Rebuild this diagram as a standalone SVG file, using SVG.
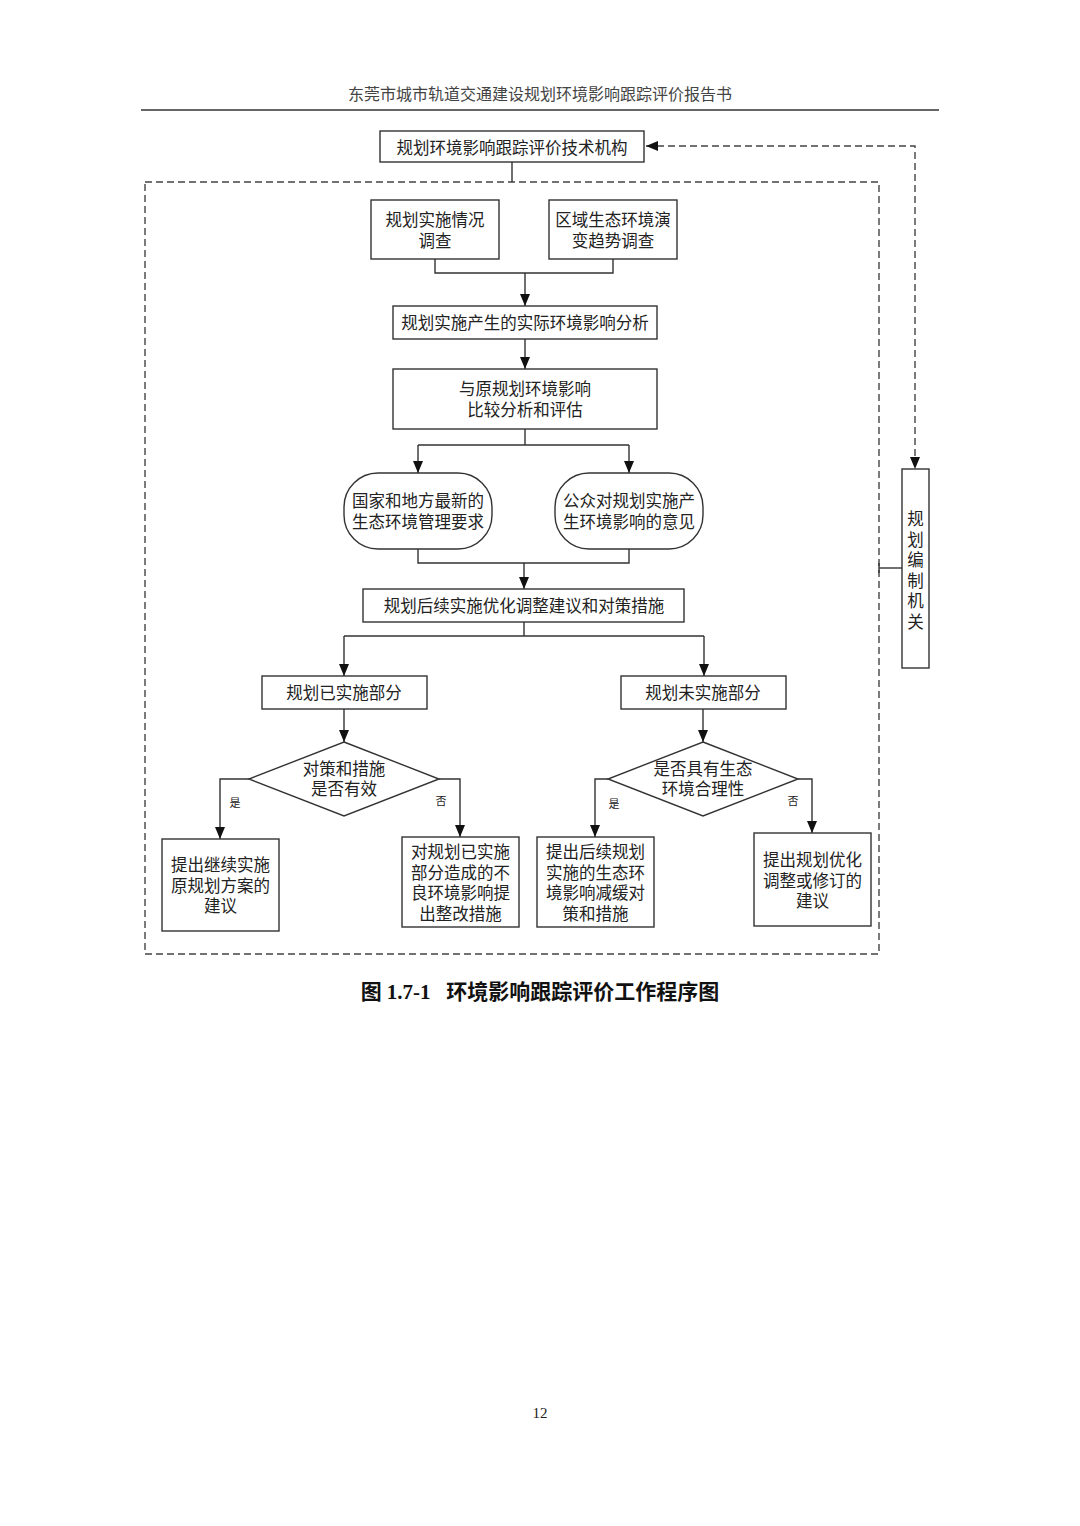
<svg xmlns="http://www.w3.org/2000/svg" width="1080" height="1526" viewBox="0 0 1080 1526">
<defs>
<marker id="arr" viewBox="0 0 12 10" refX="12" refY="5" markerWidth="12" markerHeight="10" markerUnits="userSpaceOnUse" orient="auto-start-reverse">
<path d="M0,0 L12,5 L0,10 Z" fill="#111"/>
</marker>
</defs>
<style>
.box{fill:#fff;stroke:#333;stroke-width:1.4}
.t{font-family:"Noto Sans CJK SC","Noto Sans",sans-serif;font-size:16.5px;fill:#222;text-anchor:middle;dominant-baseline:central}
.s{font-family:"Noto Sans CJK SC","Noto Sans",sans-serif;font-size:11px;fill:#222;text-anchor:middle;dominant-baseline:central}
.ln{fill:none;stroke:#333;stroke-width:1.4}
.da{fill:none;stroke:#444;stroke-width:1.4;stroke-dasharray:7,4}
.ar{marker-end:url(#arr)}
</style>
<rect width="1080" height="1526" fill="#fff"/>
<text x="540" y="94" font-family="'Liberation Serif','Noto Sans CJK SC',serif" font-size="16" fill="#444" text-anchor="middle" dominant-baseline="central">东莞市城市轨道交通建设规划环境影响跟踪评价报告书</text>
<line x1="141" y1="110" x2="939" y2="110" stroke="#333" stroke-width="1.5"/>

<rect x="145" y="182" width="734" height="772" class="da"/>

<g id="connectors">
<line x1="512" y1="162" x2="512" y2="182" class="ln"/>
<path d="M646,146 H915 V469" class="da" marker-start="url(#arr)" marker-end="url(#arr)"/>
<line x1="879" y1="568" x2="902" y2="568" class="ln"/>
<line x1="879" y1="563" x2="879" y2="573" class="ln"/>
<path d="M435,259 V273 H613 V259" class="ln"/>
<line x1="525" y1="273" x2="525" y2="306" class="ln ar"/>
<line x1="525" y1="339" x2="525" y2="369" class="ln ar"/>
<path d="M525,429 V445" class="ln"/>
<path d="M418,445 H629" class="ln"/>
<line x1="418" y1="445" x2="418" y2="473" class="ln ar"/>
<line x1="629" y1="445" x2="629" y2="473" class="ln ar"/>
<path d="M418,549 V563 H629 V549" class="ln"/>
<line x1="524" y1="563" x2="524" y2="589" class="ln ar"/>
<path d="M524,622 V636 M344,636 H704" class="ln"/>
<line x1="344" y1="636" x2="344" y2="676" class="ln ar"/>
<line x1="704" y1="636" x2="704" y2="676" class="ln ar"/>
<line x1="344" y1="709" x2="344" y2="742" class="ln ar"/>
<line x1="703" y1="709" x2="703" y2="742" class="ln ar"/>
<path d="M249,779 H220 V839" class="ln ar"/>
<path d="M439,779 H460 V837" class="ln ar"/>
<path d="M608,779 H595 V837" class="ln ar"/>
<path d="M798,779 H812 V833" class="ln ar"/>
<text x="235" y="802" class="s">是</text>
<text x="441" y="800" class="s">否</text>
<text x="614" y="803" class="s">是</text>
<text x="793" y="800" class="s">否</text>
</g>

<g id="n_tech">
<rect x="380" y="131" width="264" height="31" class="box"/>
<text x="512" y="147" class="t">规划环境影响跟踪评价技术机构</text>
</g>
<g id="n_organ">
<rect x="902" y="469" width="27" height="199" class="box"/>
<text x="915.5" class="t"><tspan x="915.5" y="518">规</tspan><tspan x="915.5" y="538.5">划</tspan><tspan x="915.5" y="559">编</tspan><tspan x="915.5" y="579.5">制</tspan><tspan x="915.5" y="600">机</tspan><tspan x="915.5" y="620.5">关</tspan></text>
</g>
<g id="n_survey1">
<rect x="371" y="200" width="128" height="59" class="box"/>
<text class="t"><tspan x="435" y="219">规划实施情况</tspan><tspan x="435" y="240">调查</tspan></text>
</g>
<g id="n_survey2">
<rect x="549" y="200" width="128" height="59" class="box"/>
<text class="t"><tspan x="613" y="219">区域生态环境演</tspan><tspan x="613" y="240">变趋势调查</tspan></text>
</g>
<g id="n_actual">
<rect x="393" y="306" width="264" height="33" class="box"/>
<text x="525" y="322" class="t">规划实施产生的实际环境影响分析</text>
</g>
<g id="n_compare">
<rect x="393" y="369" width="264" height="60" class="box"/>
<text class="t"><tspan x="525" y="388">与原规划环境影响</tspan><tspan x="525" y="409">比较分析和评估</tspan></text>
</g>
<g id="n_national">
<rect x="344" y="473" width="148" height="76" rx="34" ry="34" class="box"/>
<text class="t"><tspan x="418" y="500">国家和地方最新的</tspan><tspan x="418" y="521">生态环境管理要求</tspan></text>
</g>
<g id="n_public">
<rect x="555" y="473" width="148" height="76" rx="34" ry="34" class="box"/>
<text class="t"><tspan x="629" y="500">公众对规划实施产</tspan><tspan x="629" y="521">生环境影响的意见</tspan></text>
</g>
<g id="n_follow">
<rect x="363" y="589" width="321" height="33" class="box"/>
<text x="524" y="605" class="t">规划后续实施优化调整建议和对策措施</text>
</g>
<g id="n_done">
<rect x="262" y="676" width="165" height="33" class="box"/>
<text x="344" y="692" class="t">规划已实施部分</text>
</g>
<g id="n_notdone">
<rect x="621" y="676" width="165" height="33" class="box"/>
<text x="703" y="692" class="t">规划未实施部分</text>
</g>
<g id="n_dia1">
<polygon points="344,742 439,779 344,816 249,779" class="box"/>
<text class="t"><tspan x="344" y="768">对策和措施</tspan><tspan x="344" y="788">是否有效</tspan></text>
</g>
<g id="n_dia2">
<polygon points="703,742 798,779 703,816 608,779" class="box"/>
<text class="t"><tspan x="703" y="768">是否具有生态</tspan><tspan x="703" y="788">环境合理性</tspan></text>
</g>
<g id="n_continue">
<rect x="162" y="839" width="117" height="92" class="box"/>
<text class="t"><tspan x="220.5" y="864">提出继续实施</tspan><tspan x="220.5" y="884.5">原规划方案的</tspan><tspan x="220.5" y="905">建议</tspan></text>
</g>
<g id="n_rectify">
<rect x="402" y="837" width="117" height="90" class="box"/>
<text class="t"><tspan x="460.5" y="851">对规划已实施</tspan><tspan x="460.5" y="871.5">部分造成的不</tspan><tspan x="460.5" y="892">良环境影响提</tspan><tspan x="460.5" y="912.5">出整改措施</tspan></text>
</g>
<g id="n_mitigate">
<rect x="537" y="837" width="117" height="90" class="box"/>
<text class="t"><tspan x="595.5" y="851">提出后续规划</tspan><tspan x="595.5" y="871.5">实施的生态环</tspan><tspan x="595.5" y="892">境影响减缓对</tspan><tspan x="595.5" y="912.5">策和措施</tspan></text>
</g>
<g id="n_revise">
<rect x="754" y="833" width="117" height="93" class="box"/>
<text class="t"><tspan x="812.5" y="859">提出规划优化</tspan><tspan x="812.5" y="879.5">调整或修订的</tspan><tspan x="812.5" y="900">建议</tspan></text>
</g>

<text x="540" y="992" font-family="'Liberation Serif','Noto Sans CJK SC',serif" font-size="21" font-weight="bold" fill="#111" text-anchor="middle" dominant-baseline="central" xml:space="preserve">图 1.7-1   环境影响跟踪评价工作程序图</text>
<text x="540" y="1413" font-family="'Liberation Serif',serif" font-size="15" fill="#222" text-anchor="middle" dominant-baseline="central">12</text>
</svg>
